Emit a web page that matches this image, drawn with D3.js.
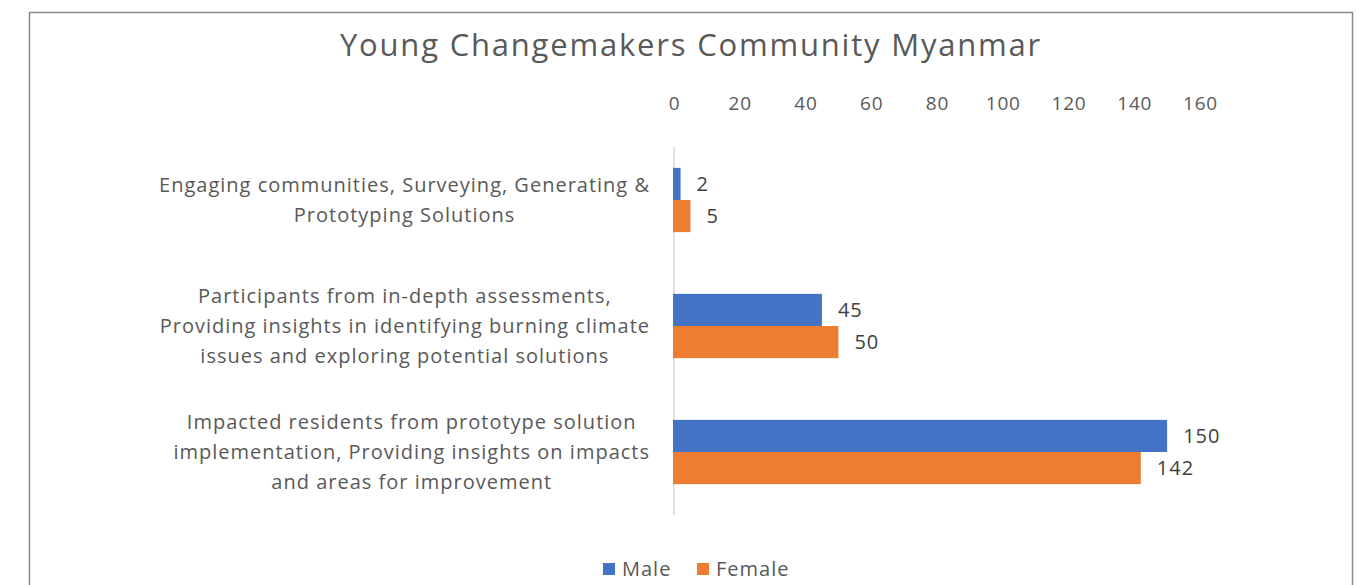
<!DOCTYPE html>
<html>
<head>
<meta charset="utf-8">
<script src="https://cdn.jsdelivr.net/npm/d3@7"></script>
<style>
  html, body { margin: 0; padding: 0; background: #fff; }
  svg { display: block; font-family: "Open Sans", "Noto Sans", sans-serif; }
</style>
</head>
<body>
<div id="chart"></div>
<script>
// ─── Data ────────────────────────────────────────────────────────────────────
const categories = [
  ['Engaging communities, Surveying, Generating &', 'Prototyping Solutions'],
  ['Participants from in-depth assessments,', 'Providing insights in identifying burning climate', 'issues and exploring potential solutions'],
  ['Impacted residents from prototype solution', 'implementation, Providing insights on impacts', 'and areas for improvement']
];
const seriesNames = ['Male', 'Female'];
const maleValues   = [2, 45, 150];
const femaleValues = [5, 50, 142];
const xTicks = [0, 20, 40, 60, 80, 100, 120, 140, 160];

const COLORS = { Male: '#4472C4', Female: '#ED7D31' };

// ─── Layout ──────────────────────────────────────────────────────────────────
const W = 1358, H = 585;
const X0 = 674, X1 = 1200;
const Y0 = 137, Y1 = 515;
const LABEL_RIGHT = 650;

const svg = d3.select('#chart').append('svg')
  .attr('width', W).attr('height', H);

// chart frame
svg.append('rect')
  .attr('x', 29.5).attr('y', 12.5)
  .attr('width', 1323).attr('height', 600)
  .attr('fill', '#fff').attr('stroke', '#8a8a8a').attr('stroke-width', 1.5);

svg.append('text')
  .attr('x', 691).attr('y', 56)
  .attr('text-anchor', 'middle')
  .attr('font-size', 31).attr('letter-spacing', 1.8).attr('fill', '#595959')
  .text('Young Changemakers Community Myanmar');

const x = d3.scaleLinear().domain([0, 160]).range([X0, X1]);
const y = d3.scaleBand().domain(d3.range(categories.length)).range([Y0, Y1]).paddingInner(0.49).paddingOuter(0.245);
const ySub = d3.scaleBand().domain(seriesNames).range([0, y.bandwidth()]);

// top axis labels only
const xAxis = d3.axisTop(x).tickValues(xTicks).tickSize(0).tickPadding(0);
const gx = svg.append('g').attr('transform', 'translate(0,110)').call(xAxis);
gx.select('.domain').remove();
gx.selectAll('text')
  .attr('font-size', 19).attr('letter-spacing', 0.8).attr('fill', '#595959')
  .attr('font-family', '"Open Sans", "Noto Sans", sans-serif');

// vertical category axis line
svg.append('line')
  .attr('x1', X0).attr('x2', X0)
  .attr('y1', Y0 + 10).attr('y2', Y1)
  .attr('stroke', '#d9d9d9').attr('stroke-width', 1.5);

// bars
const rows = categories.map((c, i) => ({ i, Male: maleValues[i], Female: femaleValues[i] }));
const groups = svg.selectAll('g.cat').data(rows).join('g')
  .attr('class', 'cat')
  .attr('transform', d => `translate(0,${y(d.i)})`);

groups.selectAll('rect').data(d => seriesNames.map(s => ({ s, v: d[s] }))).join('rect')
  .attr('x', x(0) - 1)
  .attr('y', d => ySub(d.s))
  .attr('width', d => x(d.v) - x(0) + 1)
  .attr('height', ySub.bandwidth())
  .attr('fill', d => COLORS[d.s]);

groups.selectAll('text.val').data(d => seriesNames.map(s => ({ s, v: d[s] }))).join('text')
  .attr('class', 'val')
  .attr('x', d => x(d.v) + 16)
  .attr('y', d => ySub(d.s) + ySub.bandwidth() / 2)
  .attr('dy', '0.35em')
  .attr('font-size', 20).attr('letter-spacing', 1).attr('fill', '#404040')
  .text(d => d.v);

// category labels: lines centred on each other, widest line ends at LABEL_RIGHT
const LINE_H = 30;
svg.selectAll('text.cat').data(categories).join('text')
  .attr('class', 'cat')
  .attr('text-anchor', 'middle')
  .attr('font-size', 20).attr('letter-spacing', 1).attr('fill', '#595959')
  .each(function(lines, i) {
    const el = d3.select(this);
    const cy = y(i) + y.bandwidth() / 2;
    const top = cy - (lines.length - 1) * LINE_H / 2;
    const spans = el.selectAll('tspan').data(lines).join('tspan')
      .attr('x', 0)
      .attr('y', (l, k) => top + k * LINE_H)
      .attr('dy', '0.35em')
      .text(l => l);
    const maxW = d3.max(spans.nodes(), n => n.getComputedTextLength());
    spans.attr('x', LABEL_RIGHT - maxW / 2);
  });

// legend
const legend = svg.append('g').attr('transform', 'translate(603,569)');
const legendX = [0, 94];
seriesNames.forEach((s, i) => {
  const g = legend.append('g').attr('transform', `translate(${legendX[i]},0)`);
  g.append('rect').attr('x', 0).attr('y', -6).attr('width', 12).attr('height', 12).attr('fill', COLORS[s]);
  g.append('text').attr('x', 19).attr('y', 0).attr('dy', '0.35em')
    .attr('font-size', 20).attr('letter-spacing', 1).attr('fill', '#595959').text(s);
});
</script>
</body>
</html>
